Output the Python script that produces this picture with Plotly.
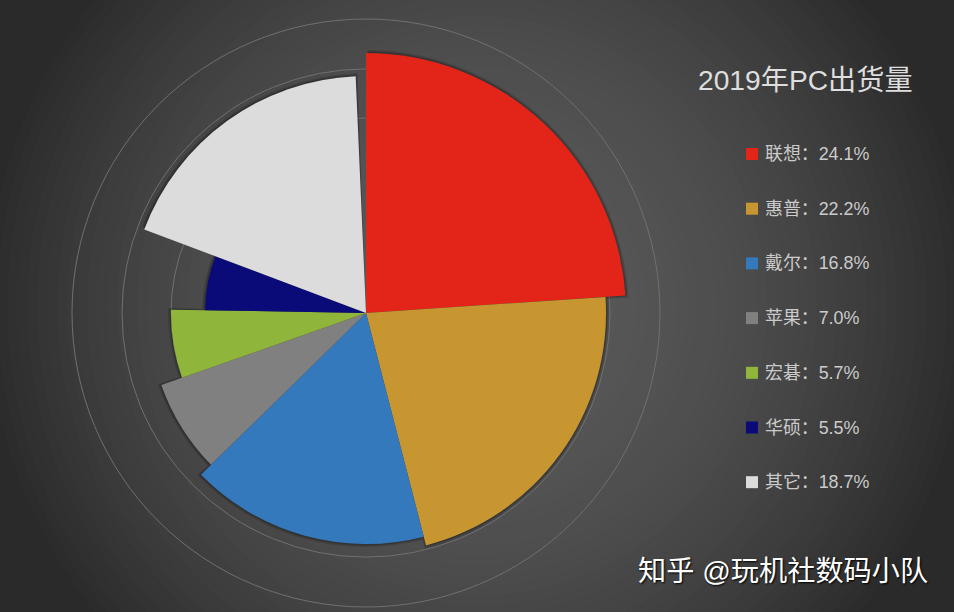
import plotly.graph_objects as go

brands = ["联想", "惠普", "戴尔", "苹果", "宏碁", "华硕", "其它"]
shares = [24.1, 22.2, 16.8, 7.0, 5.7, 5.5, 18.7]
radii = [260, 240, 231, 217, 195, 161, 237]
colors = ["#E22419", "#C79631", "#3479BC", "#808080", "#8FB63A", "#0A0A78", "#DCDCDC"]
rings = [195, 244, 294]
title_text = "2019年PC出货量"
watermark = "知乎 @玩机社数码小队"

W, H = 954, 612
CX, CY = 366, 313
RMAX = 299
SPAN = 357.5
GX, GY = 477, 306
FONT = "Liberation Sans, Noto Sans CJK SC, sans-serif"

widths = [s / sum(shares) * SPAN for s in shares]
thetas = []
start = 0.0
for w in widths:
    thetas.append(start + w / 2)
    start += w

fig = go.Figure()
fig.add_trace(go.Barpolar(
    r=[r + 3 for r in radii], theta=[t + 0.5 for t in thetas], width=widths,
    marker=dict(color="rgba(0,0,0,0.14)", line=dict(width=0)),
    hoverinfo="skip", showlegend=False))
fig.add_trace(go.Barpolar(
    r=[r + 1.5 for r in radii], theta=[t + 0.25 for t in thetas], width=widths,
    marker=dict(color="rgba(0,0,0,0.2)", line=dict(width=0)),
    hoverinfo="skip", showlegend=False))
fig.add_trace(go.Barpolar(
    r=radii, theta=thetas, width=widths,
    marker=dict(color=colors, line=dict(width=0)),
    text=brands, showlegend=False))


def px(x):
    return x / W


def py(y):
    return 1 - y / H


shapes = []
# radial background glow, as stacked circles
for i in range(60):
    R = 600 - i * 10
    c = int(max(42, 90 - 1.9e-4 * R * R))
    shapes.append(dict(type="circle", xref="paper", yref="paper", layer="below",
                       x0=px(GX - R), x1=px(GX + R), y0=py(GY + R), y1=py(GY - R),
                       fillcolor=f"rgb({c},{c},{c})", line=dict(width=0)))

annotations = [
    dict(text=title_text, x=px(696), y=py(80), xref="paper", yref="paper",
         xanchor="left", yanchor="middle", showarrow=False,
         font=dict(family=FONT, size=28.2, color="#DEDEDE")),
    dict(text=watermark, x=px(636), y=py(571), xref="paper", yref="paper",
         xanchor="left", yanchor="middle", showarrow=False,
         font=dict(family=FONT, size=28.2, color="#FFFFFF", shadow="1px 1px 2px #000000")),
]
for i, (b, s, col) in enumerate(zip(brands, shares, colors)):
    y = 154 + i * 54.7
    shapes.append(dict(type="rect", xref="paper", yref="paper",
                       x0=px(746), x1=px(758), y0=py(y + 6), y1=py(y - 6),
                       fillcolor=col, line=dict(width=0)))
    annotations.append(dict(text=f"{b}：{s:.1f}%", x=px(762.5), y=py(y), xref="paper", yref="paper",
                            xanchor="left", yanchor="middle", showarrow=False,
                            font=dict(family=FONT, size=17.9, color="#CBCBCB")))

fig.update_layout(
    width=W, height=H, margin=dict(l=0, r=0, t=0, b=0),
    paper_bgcolor="#2A2A2A", barmode="overlay", showlegend=False,
    shapes=shapes, annotations=annotations,
    polar=dict(
        domain=dict(x=[px(CX - RMAX), px(CX + RMAX)], y=[py(CY + RMAX), py(CY - RMAX)]),
        bgcolor="rgba(0,0,0,0)", bargap=0,
        angularaxis=dict(rotation=90, direction="clockwise", showgrid=False,
                         showline=False, showticklabels=False, ticks=""),
        radialaxis=dict(range=[0, RMAX], tickvals=rings, showticklabels=False, ticks="",
                        showline=False, gridcolor="#707070", gridwidth=1.4),
    ),
)

fig.write_html("out.html", config={"displayModeBar": False},
               post_script="document.body.style.margin='0';document.body.style.overflow='hidden';")
